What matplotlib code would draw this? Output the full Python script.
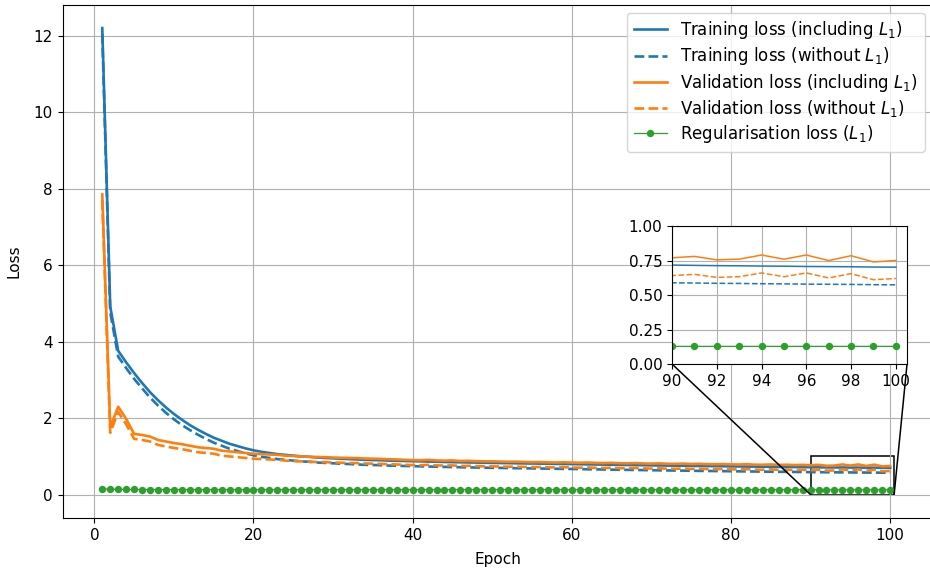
import matplotlib
matplotlib.use('Agg')
import matplotlib.pyplot as plt
from mpl_toolkits.axes_grid1.inset_locator import mark_inset

# --- data ---
epochs = list(range(1, 101))

train_incl = [12.20, 4.92, 3.76, 3.46, 3.18, 2.92, 2.68, 2.47, 2.28, 2.11,
              1.96, 1.82, 1.70, 1.59, 1.49, 1.41, 1.33, 1.27, 1.21, 1.16,
              1.12, 1.09, 1.06, 1.04, 1.02, 1.00, 0.99, 0.97, 0.96, 0.95,
              0.94, 0.93, 0.92, 0.91, 0.905, 0.90, 0.89, 0.885, 0.88, 0.875,
              0.870, 0.865, 0.860, 0.855, 0.850, 0.846, 0.842, 0.838, 0.834, 0.830,
              0.827, 0.824, 0.820, 0.817, 0.814, 0.811, 0.808, 0.805, 0.802, 0.800,
              0.796, 0.792, 0.789, 0.785, 0.782, 0.779, 0.776, 0.773, 0.770, 0.767,
              0.764, 0.761, 0.758, 0.756, 0.753, 0.750, 0.748, 0.745, 0.743, 0.740,
              0.738, 0.735, 0.733, 0.731, 0.728, 0.726, 0.724, 0.722, 0.720, 0.717,
              0.715, 0.713, 0.712, 0.710, 0.709, 0.707, 0.706, 0.705, 0.703, 0.702]

train_excl = [12.05, 4.77, 3.61, 3.31, 3.03, 2.78, 2.54, 2.33, 2.14, 1.97,
              1.82, 1.69, 1.57, 1.46, 1.36, 1.28, 1.20, 1.14, 1.08, 1.03,
              0.99, 0.96, 0.93, 0.91, 0.89, 0.87, 0.86, 0.84, 0.83, 0.82,
              0.81, 0.80, 0.79, 0.78, 0.775, 0.77, 0.76, 0.755, 0.75, 0.745,
              0.740, 0.735, 0.731, 0.726, 0.721, 0.717, 0.713, 0.709, 0.706, 0.702,
              0.699, 0.696, 0.692, 0.689, 0.686, 0.683, 0.680, 0.677, 0.674, 0.672,
              0.668, 0.664, 0.661, 0.657, 0.654, 0.651, 0.648, 0.645, 0.642, 0.639,
              0.636, 0.633, 0.630, 0.628, 0.625, 0.622, 0.620, 0.617, 0.615, 0.612,
              0.610, 0.607, 0.605, 0.603, 0.600, 0.598, 0.596, 0.594, 0.592, 0.589,
              0.587, 0.585, 0.584, 0.582, 0.581, 0.579, 0.578, 0.577, 0.575, 0.574]

val_incl = [7.85, 1.76, 2.30, 1.98, 1.59, 1.56, 1.52, 1.43, 1.39, 1.35,
            1.32, 1.28, 1.24, 1.22, 1.20, 1.15, 1.13, 1.11, 1.09, 1.07,
            1.06, 1.05, 1.04, 1.02, 1.01, 1.00, 0.99, 0.985, 0.98, 0.97,
            0.965, 0.96, 0.955, 0.945, 0.94, 0.935, 0.925, 0.92, 0.91, 0.905,
            0.90, 0.91, 0.895, 0.89, 0.895, 0.88, 0.885, 0.875, 0.87, 0.87,
            0.865, 0.86, 0.862, 0.855, 0.85, 0.852, 0.845, 0.84, 0.848, 0.838,
            0.835, 0.84, 0.83, 0.826, 0.832, 0.822, 0.818, 0.825, 0.815, 0.812,
            0.818, 0.808, 0.805, 0.812, 0.80, 0.806, 0.798, 0.795, 0.80, 0.79,
            0.788, 0.795, 0.784, 0.782, 0.79, 0.778, 0.783, 0.774, 0.78, 0.77,
            0.78, 0.755, 0.76, 0.79, 0.76, 0.79, 0.75, 0.785, 0.74, 0.75]

val_excl = [7.70, 1.62, 2.16, 1.84, 1.46, 1.43, 1.39, 1.30, 1.26, 1.22,
            1.19, 1.15, 1.11, 1.09, 1.07, 1.02, 1.00, 0.98, 0.96, 0.94,
            0.93, 0.92, 0.91, 0.89, 0.88, 0.87, 0.86, 0.855, 0.85, 0.84,
            0.835, 0.83, 0.825, 0.815, 0.81, 0.805, 0.795, 0.79, 0.78, 0.775,
            0.77, 0.78, 0.765, 0.76, 0.765, 0.75, 0.755, 0.745, 0.74, 0.74,
            0.735, 0.73, 0.733, 0.726, 0.72, 0.723, 0.716, 0.711, 0.719, 0.709,
            0.706, 0.711, 0.701, 0.697, 0.703, 0.693, 0.689, 0.696, 0.686, 0.683,
            0.689, 0.679, 0.676, 0.683, 0.671, 0.677, 0.669, 0.666, 0.671, 0.661,
            0.659, 0.666, 0.655, 0.653, 0.661, 0.649, 0.654, 0.645, 0.651, 0.641,
            0.650, 0.628, 0.633, 0.660, 0.633, 0.660, 0.624, 0.655, 0.611, 0.620]

reg_l1 = [0.150, 0.145, 0.140, 0.137, 0.135, 0.134, 0.133, 0.132, 0.132, 0.131,
          0.131, 0.131, 0.131, 0.131, 0.131, 0.130, 0.130, 0.130, 0.130, 0.130,
          0.130, 0.130, 0.130, 0.130, 0.130, 0.130, 0.130, 0.130, 0.130, 0.130,
          0.130, 0.130, 0.130, 0.130, 0.130, 0.130, 0.130, 0.130, 0.130, 0.130,
          0.130, 0.130, 0.130, 0.130, 0.130, 0.129, 0.129, 0.129, 0.129, 0.129,
          0.129, 0.129, 0.129, 0.129, 0.129, 0.129, 0.129, 0.129, 0.129, 0.129,
          0.129, 0.129, 0.129, 0.129, 0.129, 0.129, 0.129, 0.129, 0.129, 0.129,
          0.128, 0.128, 0.128, 0.128, 0.128, 0.128, 0.128, 0.128, 0.128, 0.128,
          0.128, 0.128, 0.128, 0.128, 0.128, 0.128, 0.128, 0.128, 0.128, 0.128,
          0.128, 0.128, 0.128, 0.128, 0.128, 0.128, 0.128, 0.128, 0.128, 0.128]

labels = [r'Training loss (including $L_1$)',
          r'Training loss (without $L_1$)',
          r'Validation loss (including $L_1$)',
          r'Validation loss (without $L_1$)',
          r'Regularisation loss ($L_1$)']

zoom_x = (90, 100.5)
zoom_y = (0, 1)

plt.rcParams['font.size'] = 11

fig = plt.figure(figsize=(9.3, 5.73), dpi=100)
ax = fig.add_axes([0.0674, 0.096, 0.9366, 0.8958])


def draw(a, lw):
    a.plot(epochs, train_incl, color='tab:blue', lw=lw, label=labels[0])
    a.plot(epochs, train_excl, color='tab:blue', ls='--', lw=lw, label=labels[1])
    a.plot(epochs, val_incl, color='tab:orange', lw=lw, label=labels[2])
    a.plot(epochs, val_excl, color='tab:orange', ls='--', lw=lw, label=labels[3])
    a.plot(epochs, reg_l1, color='tab:green', lw=0.9, marker='o', ms=4.3,
           label=labels[4])
    a.grid(True)


draw(ax, 1.9)
ax.set_xlim(-3.975, 105.475)
ax.set_ylim(-0.61, 12.81)
ax.set_xlabel('Epoch', labelpad=7)
ax.set_ylabel('Loss', labelpad=9)
ax.legend(loc='upper right', bbox_to_anchor=(0.9992, 1.001), fontsize=12,
          labelspacing=0.25)

# --- inset ---
axins = fig.add_axes([0.7226, 0.3647, 0.2527, 0.2408])
draw(axins, 1.1)
axins.set_xlim(*zoom_x)
axins.set_ylim(*zoom_y)
axins.set_xticks([90, 92, 94, 96, 98, 100])
axins.set_yticks([0, 0.25, 0.5, 0.75, 1.0])
axins.set_yticklabels(['0.00', '0.25', '0.50', '0.75', '1.00'])
mark_inset(ax, axins, loc1=3, loc2=4, fc='none', ec='black', lw=1.1)

fig.savefig('out.png', dpi=100)
